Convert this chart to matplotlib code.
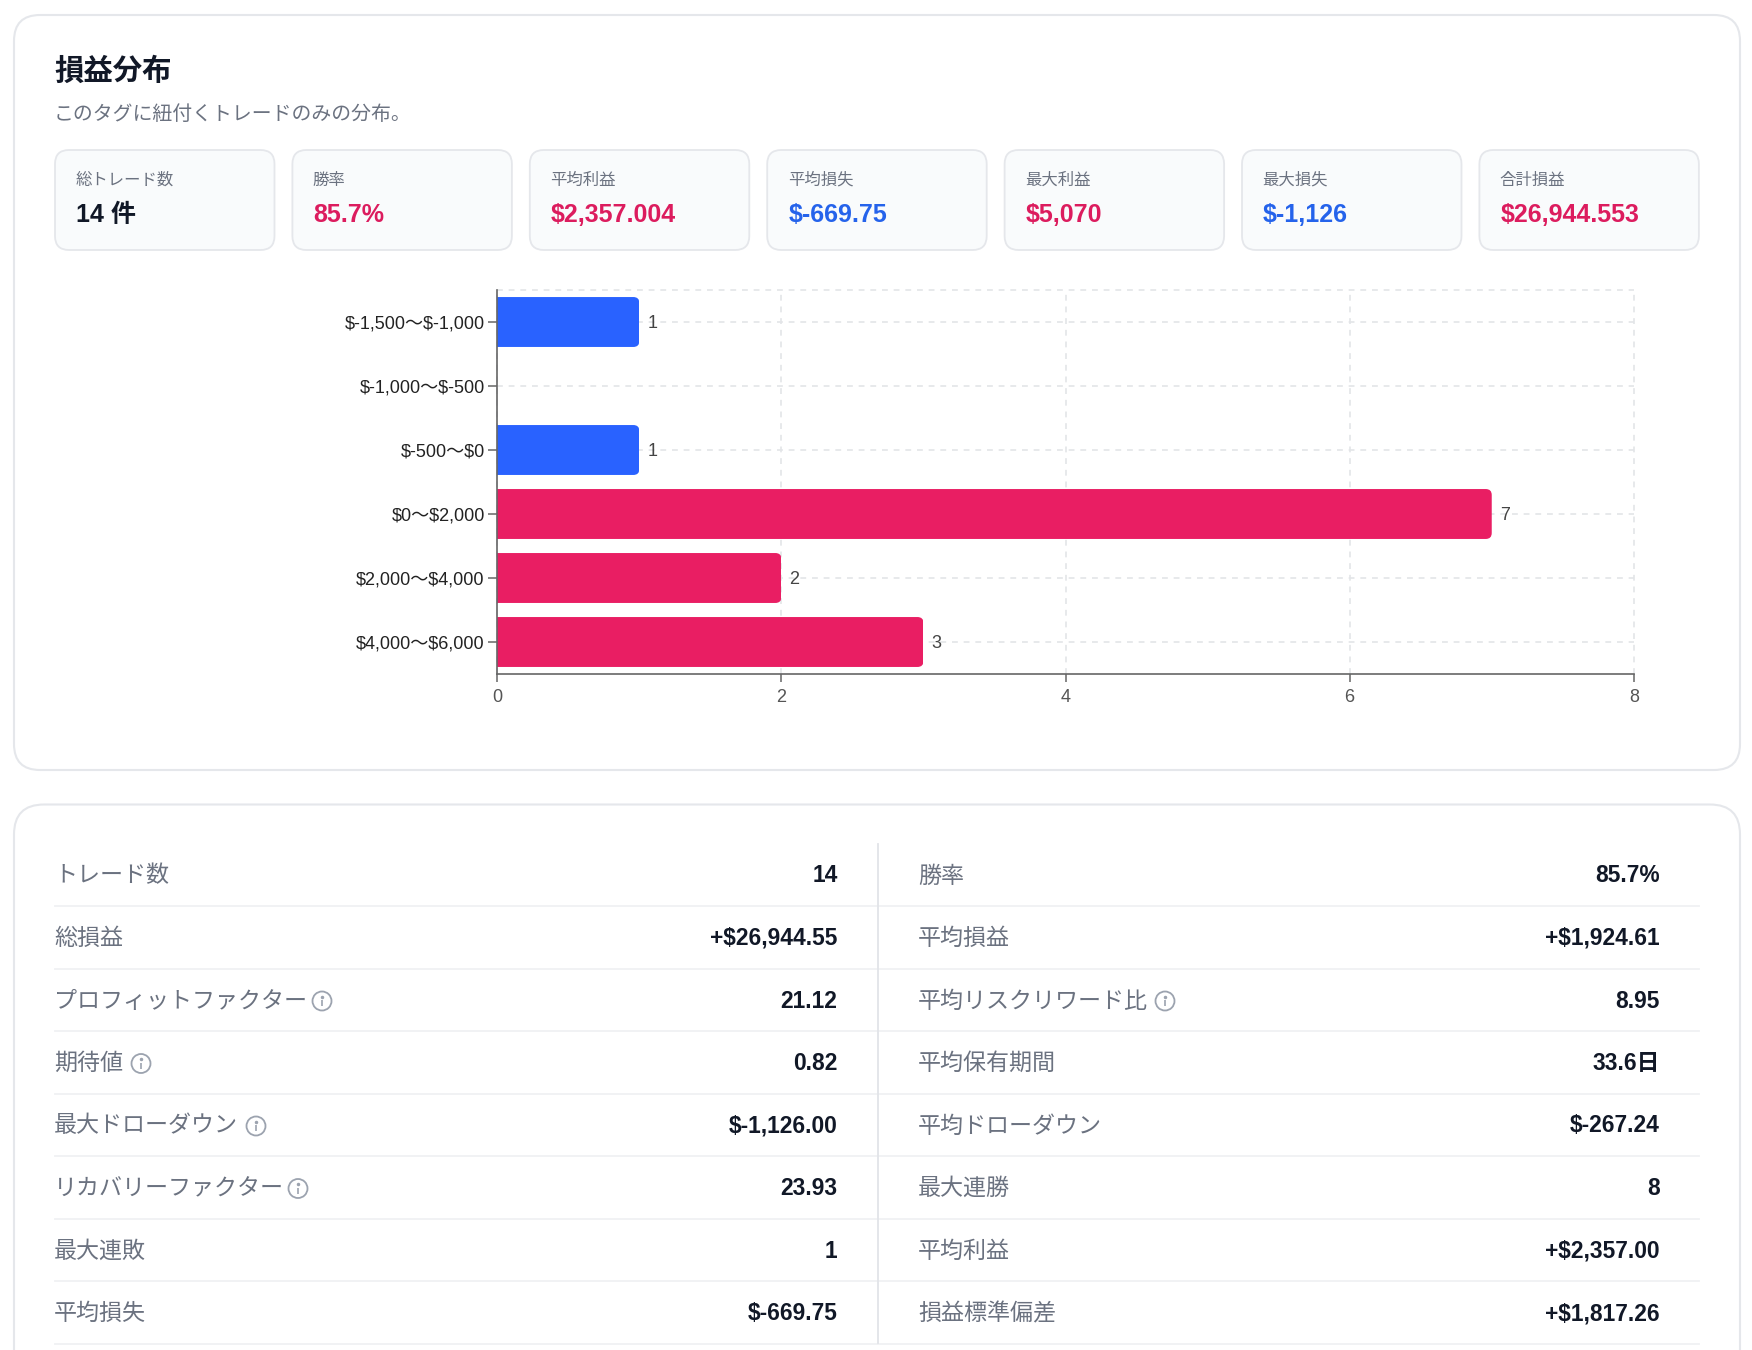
"""Render the profit/loss distribution panel and the trade statistics table."""

from __future__ import annotations

import matplotlib

matplotlib.use("Agg")
import matplotlib.pyplot as plt
from matplotlib.patches import Circle, FancyBboxPatch

plt.rcParams["font.family"] = ["Liberation Sans", "Noto Sans CJK JP", "DejaVu Sans"]

PINK = "#e91e63"
BLUE = "#2962ff"
PINK_TEXT = "#dc1c5e"
BLUE_TEXT = "#2563eb"
INK = "#111827"
GREY = "#6b7280"
BORDER = "#e5e7eb"

bins = ["$-1,500〜$-1,000", "$-1,000〜$-500", "$-500〜$0", "$0〜$2,000", "$2,000〜$4,000", "$4,000〜$6,000"]
counts = [1, 0, 1, 7, 2, 3]
bin_is_loss = [True, True, True, False, False, False]
x_ticks = [0, 2, 4, 6, 8]

kpi_labels = ["総トレード数", "勝率", "平均利益", "平均損失", "最大利益", "最大損失", "合計損益"]
kpi_values = ["14 件", "85.7%", "$2,357.004", "$-669.75", "$5,070", "$-1,126", "$26,944.553"]
kpi_colors = [INK, PINK_TEXT, PINK_TEXT, BLUE_TEXT, PINK_TEXT, BLUE_TEXT, PINK_TEXT]

left_labels = ["トレード数", "総損益", "プロフィットファクター", "期待値", "最大ドローダウン", "リカバリーファクター", "最大連敗", "平均損失"]
left_values = ["14", "+$26,944.55", "21.12", "0.82", "$-1,126.00", "23.93", "1", "$-669.75"]
left_info = {2: 322, 3: 141, 4: 256, 5: 298}

right_labels = ["勝率", "平均損益", "平均リスクリワード比", "平均保有期間", "平均ドローダウン", "最大連勝", "平均利益", "損益標準偏差"]
right_values = ["85.7%", "+$1,924.61", "8.95", "33.6日", "$-267.24", "8", "+$2,357.00", "+$1,817.26"]
right_info = {2: 1165}


def card(ax, x, y, w, h, radius, face, edge, lw):
    ax.add_patch(FancyBboxPatch((x, y), w, h, boxstyle=f"round,pad=0,rounding_size={radius}",
                                facecolor=face, edgecolor=edge, linewidth=lw))


def info_icon(ax, x, y):
    ax.add_patch(Circle((x, y), 9.5, facecolor="none", edgecolor="#9ca3af", linewidth=1.3))
    ax.plot([x, x], [y - 1, y + 5], color="#9ca3af", lw=1.2, solid_capstyle="butt")
    ax.plot([x], [y - 4.2], marker="o", ms=1.5, color="#9ca3af")


def stat_rows(ax, labels, values, info, label_x, value_x, line_x0, line_x1):
    for i, (label, value) in enumerate(zip(labels, values)):
        y = 876 + i * 62.5
        ax.text(label_x, y, label, fontsize=16.6, color=GREY, va="center", ha="left", parse_math=False)
        ax.text(value_x, y, value, fontsize=16.4, color=INK, va="center", ha="right", fontweight="bold",
                parse_math=False)
        ax.plot([line_x0, line_x1], [906 + i * 62.5] * 2, color="#f0f1f3", lw=1.3)
        if i in info:
            info_icon(ax, info[i], y)


fig = plt.figure(figsize=(17.52, 13.5), dpi=100, facecolor="white")
page = fig.add_axes([0, 0, 1, 1])
page.set_xlim(0, 1752)
page.set_ylim(1350, 0)
page.axis("off")

card(page, 14, 15, 1726, 755, 26, "white", BORDER, 1.5)
card(page, 14, 804.5, 1726, 640, 30, "white", BORDER, 1.5)

page.text(54, 72, "損益分布", fontsize=21.2, color=INK, va="center", fontweight="bold")
page.text(54, 115, "このタグに紐付くトレードのみの分布。", fontsize=14.3, color=GREY, va="center")

for i, (label, value, color) in enumerate(zip(kpi_labels, kpi_values, kpi_colors)):
    x = 55 + i * 237.4
    card(page, x, 150, 219.5, 100, 14, "#f9fbfc", BORDER, 1.3)
    page.text(x + 20.5, 180, label, fontsize=11.8, color=GREY, va="center")
    page.text(x + 21, 215.5, value, fontsize=18, color=color, va="center", fontweight="bold", parse_math=False)

stat_rows(page, left_labels, left_values, left_info, 54, 837.5, 55, 877)
stat_rows(page, right_labels, right_values, right_info, 918, 1660, 878, 1699)
page.plot([877.5, 877.5], [844, 1343], color="#e2e4e8", lw=1.3)

# distribution chart, sized so one x unit is 142 px and one row is 64 px
ax = fig.add_axes([497.3 / 1752, 1 - 674 / 1350, 1136.5 / 1752, 384 / 1350])
ax.patch.set_alpha(0)
ax.set_xlim(0, 8)
ax.set_ylim(5.5, -0.5)
ax.set_axisbelow(True)

bar_height = 0.78
colors = [BLUE if loss else PINK for loss in bin_is_loss]
bars = ax.barh(range(len(bins)), counts, height=bar_height, color=colors)
for rect, n in zip(bars, counts):
    if n == 0:
        continue
    # round only the far end by clipping against a box that starts left of zero
    clip = FancyBboxPatch((-0.2, rect.get_y()), n + 0.2, bar_height,
                          boxstyle="round,pad=0,rounding_size=0.042",
                          mutation_aspect=142 / 64, transform=ax.transData)
    rect.set_clip_path(clip)
    ax.text(n + 8 / 142, rect.get_y() + bar_height / 2 + 0.025, str(n), fontsize=13, color="#444444",
            va="center", ha="left")

grid_style = dict(color="#e3e5e8", lw=1.2, dashes=(3.5, 3.5), zorder=0, clip_on=False)
for x in x_ticks:
    ax.axvline(x, **grid_style)
for y in [-0.5] + list(range(len(bins))):
    ax.axhline(y, **grid_style)

for side in ("top", "right"):
    ax.spines[side].set_visible(False)
for side in ("left", "bottom"):
    ax.spines[side].set_color("#666666")
    ax.spines[side].set_linewidth(1.2)

ax.set_yticks(range(len(bins)), bins)
ax.set_xticks(x_ticks)
ax.tick_params(axis="y", length=6.5, width=1.1, color="#666666", pad=2.5, labelsize=13, labelcolor="#222222")
ax.tick_params(axis="x", length=5.5, width=1.1, color="#666666", pad=5, labelsize=13, labelcolor="#555555")
for label in ax.get_yticklabels():
    label.set_parse_math(False)

fig.savefig("out.png", dpi=100)
plt.close(fig)
